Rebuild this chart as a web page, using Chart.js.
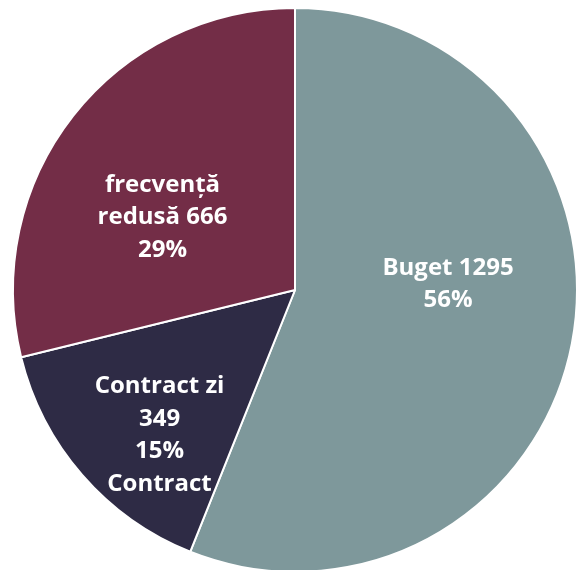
<!DOCTYPE html>
<html>
<head>
<meta charset="utf-8">
<script src="https://cdn.jsdelivr.net/npm/chart.js@4.4.1/dist/chart.umd.min.js"></script>
<style>
  html, body { margin: 0; padding: 0; background: #ffffff; overflow: hidden; }
  #wrap { width: 590px; height: 580px; }
</style>
</head>
<body>
<div id="wrap"><canvas id="pie" width="590" height="580"></canvas></div>
<script>
// data
var categories = ['Buget', 'Contract zi', 'frecvență redusă'];
var values = [1295, 349, 666];
var colors = ['#7e989b', '#2e2b45', '#732d47'];

// how each label is broken into lines ({v} value, {p} percent)
var labelLines = [
    ['Buget {v}', '{p}'],
    ['Contract zi', '{v}', '{p}', 'Contract'],
    ['frecvență', 'redusă {v}', '{p}']
];
// where inside its slice each label sits (share of the sweep, share of the radius)
var labelAngle = [0.435, 0.39, 0.41];
var labelRadius = [0.543, 0.704, 0.536];

var total = values.reduce(function (a, b) { return a + b; }, 0);

var sliceLabels = {
    id: 'sliceLabels',
    afterDatasetsDraw: function (chart) {
        var ctx = chart.ctx;
        var meta = chart.getDatasetMeta(0);
        ctx.save();
        ctx.fillStyle = '#ffffff';
        ctx.font = 'bold 24px "Open Sans"';
        ctx.textAlign = 'center';
        ctx.textBaseline = 'middle';
        meta.data.forEach(function (arc, i) {
            var p = arc.getProps(['x', 'y', 'startAngle', 'endAngle', 'outerRadius'], true);
            var a = p.startAngle + (p.endAngle - p.startAngle) * labelAngle[i];
            var r = p.outerRadius * labelRadius[i];
            var cx = p.x + Math.cos(a) * r;
            var cy = p.y + Math.sin(a) * r;
            var pct = Math.round(values[i] / total * 100) + '%';
            var lines = labelLines[i].map(function (s) {
                return s.replace('{v}', values[i]).replace('{p}', pct);
            });
            var lh = 32.5;
            var y0 = cy - (lines.length - 1) * lh / 2;
            lines.forEach(function (s, k) {
                ctx.fillText(s, cx, y0 + k * lh);
            });
        });
        ctx.restore();
    }
};

var chart = new Chart(document.getElementById('pie').getContext('2d'), {
    type: 'pie',
    data: {
        labels: categories,
        datasets: [{
            data: values,
            backgroundColor: colors,
            borderColor: '#ffffff',
            borderWidth: 2
        }]
    },
    options: {
        responsive: false,
        animation: false,
        layout: { padding: { top: 7, bottom: 7, left: 0, right: 0 } },
        plugins: {
            legend: { display: false },
            tooltip: { enabled: false }
        }
    },
    plugins: [sliceLabels]
});
</script>
</body>
</html>
